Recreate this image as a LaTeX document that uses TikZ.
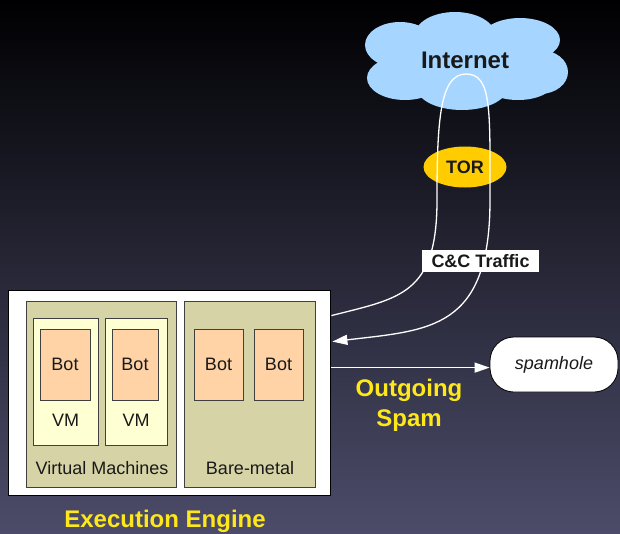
\documentclass[tikz,border=0pt]{standalone}
\usepackage{fontspec}
\setmainfont{Liberation Sans}
\usetikzlibrary{arrows.meta,shapes.geometric,calc}
\definecolor{bgtop}{RGB}{0,0,2}
\definecolor{bgmid}{RGB}{18,20,48}
\definecolor{bgbot}{RGB}{76,76,106}
\definecolor{panelc}{RGB}{214,212,166}
\definecolor{vmc}{RGB}{255,255,212}
\definecolor{botc}{RGB}{255,211,166}
\definecolor{cloudc}{RGB}{166,214,255}
\definecolor{torc}{RGB}{255,204,0}
\definecolor{yel}{RGB}{255,232,26}
\begin{document}
\begin{tikzpicture}[x=1pt,y=-1pt,
  lbl/.style={font=\fontsize{18}{21}\selectfont, text=black!90},
  panel/.style={draw=black!75, line width=0.8pt, fill=panelc, inner sep=0pt},
  vmbox/.style={draw=black!75, line width=0.8pt, fill=vmc, inner sep=0pt, minimum height=127pt},
  botbox/.style={draw=black!75, line width=0.8pt, fill=botc, inner sep=0pt, minimum height=71pt, lbl},
  bigyellow/.style={text=yel, font=\bfseries\fontsize{24}{30}\selectfont, align=center},
  wire/.style={draw=white, line width=1.3pt},
  tip/.style={-{Triangle[length=15pt,width=10pt]}}
]
\useasboundingbox (0,0) rectangle (620,533);
\shade[top color=bgtop, middle color=bgmid, bottom color=bgbot] (0,0) rectangle (620,533);

% execution engine
\node[draw=black, line width=0.8pt, fill=white, minimum width=322pt, minimum height=205pt, inner sep=0pt] (engine) at (169,392.5) {};
\node[panel, minimum width=150pt, minimum height=186pt] (vmpanel) at (101,394) {};
\node[panel, minimum width=131pt, minimum height=186pt] (bmpanel) at (249.5,394) {};
\node[vmbox, minimum width=65pt] (vm1) at (65.5,381.5) {};
\node[vmbox, minimum width=62pt] (vm2) at (136,381.5) {};
\node[botbox, minimum width=50pt] (bot1) at (65,364.5) {Bot};
\node[botbox, minimum width=46pt] (bot2) at (135,364.5) {Bot};
\node[botbox, minimum width=49pt] (bot3) at (218.5,364.5) {Bot};
\node[botbox, minimum width=49pt] (bot4) at (278.5,364.5) {Bot};
\node[lbl] (vmt1) at (65.5,420) {VM};
\node[lbl] (vmt2) at (136,420) {VM};
\node[lbl] (vmlbl) at (102,468) {Virtual Machines};
\node[lbl] (bmlbl) at (250,468) {Bare-metal};
\node[bigyellow] (eelbl) at (165,521) {Execution Engine};

% cloud
\begin{scope}[fill=cloudc]
\fill (465,60) ellipse [x radius=82pt, y radius=32pt];
\fill (400,45) ellipse [x radius=35pt, y radius=23pt];
\fill (455,35) ellipse [x radius=40pt, y radius=23pt];
\fill (520,40) ellipse [x radius=40pt, y radius=22pt];
\fill (540,72) ellipse [x radius=28pt, y radius=22pt];
\fill (518,82) ellipse [x radius=36pt, y radius=18pt];
\fill (462,88) ellipse [x radius=45pt, y radius=22pt];
\fill (405,78) ellipse [x radius=38pt, y radius=22pt];
\end{scope}
\node[font=\bfseries\fontsize{24}{28}\selectfont, text=black!90] (inet) at (465,60) {Internet};

% TOR
\node[ellipse, fill=torc, minimum width=83pt, minimum height=41pt, inner sep=0pt,
      font=\bfseries\fontsize{18}{21}\selectfont, text=black!90] (tor) at (465,167) {TOR};

% C&C loop
\coordinate (c1) at ($(engine.north east)+(1,26)$);
\coordinate (c2) at ($(engine.north east)+(2,52)$);
\draw[wire, tip] (c1) .. controls (400,298) and (437,295) .. (437,200)
   .. controls (437,120) and (440,74) .. (466,74)
   .. controls (492,74) and (490,110) .. (490,200)
   .. controls (490,330) and (430,330) .. (c2);

\node[fill=white, minimum width=117pt, minimum height=22pt, inner sep=0pt,
      font=\bfseries\fontsize{18}{21}\selectfont, text=black!90] (cc) at (480.5,261) {C\&C Traffic};

% spamhole
\node[draw=black, line width=0.8pt, fill=white, rounded corners=24pt, minimum width=128pt, minimum height=55pt,
      inner sep=0pt, font=\itshape\fontsize{18}{21}\selectfont, text=black!90] (spam) at (554,364.5) {spamhole};
\coordinate (c3) at ($(engine.north east)+(1,78)$);
\draw[wire, tip] (c3) -- (c3 -| spam.west);
\node[bigyellow] (outspam) at (409,405) {Outgoing\\Spam};
\end{tikzpicture}
\end{document}
